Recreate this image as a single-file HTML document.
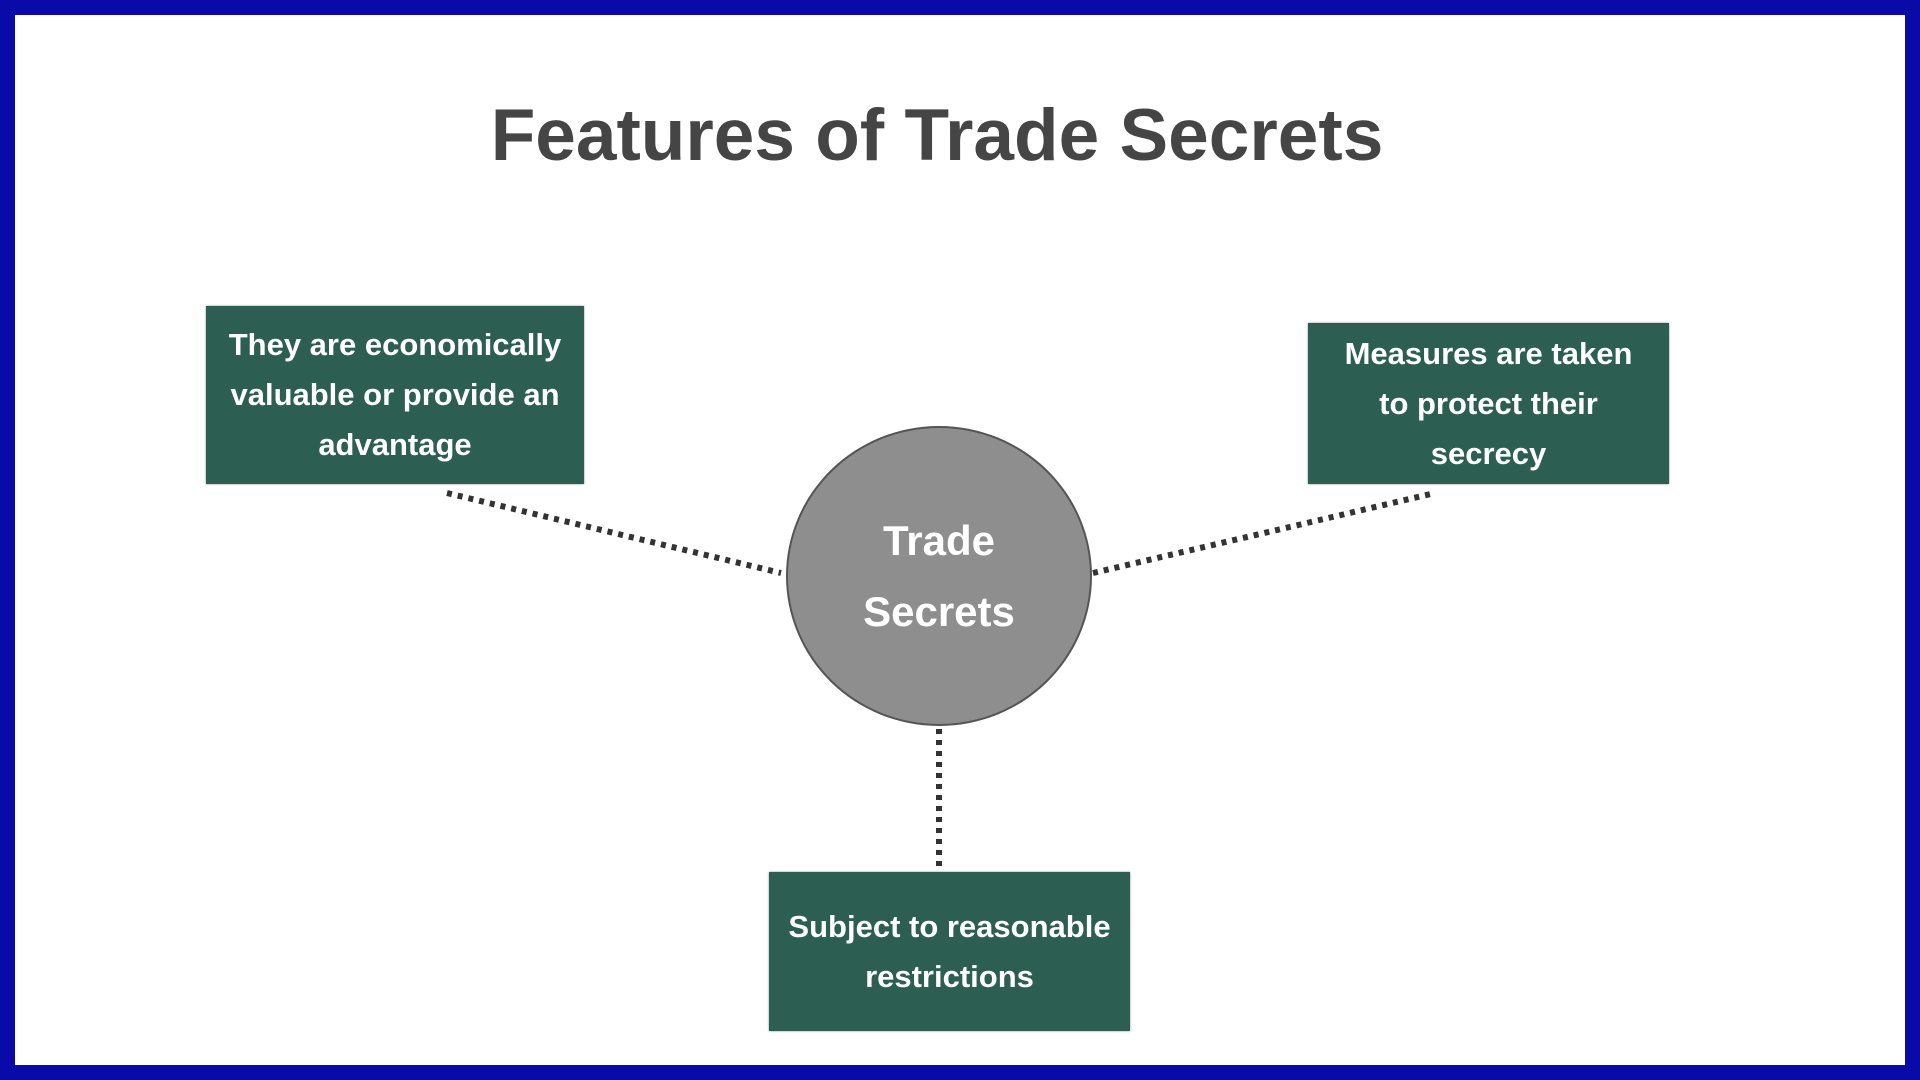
<!DOCTYPE html>
<html><head><meta charset="utf-8"><style>
html,body{margin:0;padding:0;}
body{width:1920px;height:1080px;position:relative;background:#0a0aa8;overflow:hidden;font-family:"Liberation Sans",sans-serif;}
.inner{position:absolute;left:15px;top:15px;width:1890px;height:1050px;background:#fff;}
.title{position:absolute;left:0;width:1874px;top:94px;text-align:center;font-size:73px;font-weight:bold;color:#454545;}
.box{position:absolute;background:#2c5e51;color:#fff;font-weight:bold;font-size:31px;line-height:50px;display:flex;align-items:center;justify-content:center;text-align:center;box-shadow:0 0 2px #888;}
.circle{position:absolute;left:786px;top:426px;width:302px;height:296px;border-radius:50%;background:#8e8e8e;border:2px solid #555;display:flex;align-items:center;justify-content:center;text-align:center;color:#fff;font-weight:bold;font-size:42px;line-height:71px;}
svg{position:absolute;left:0;top:0;}
</style></head><body>
<div class="inner"></div>
<div class="title">Features of Trade Secrets</div>
<svg width="1920" height="1080">
<g stroke="#333" stroke-width="6" stroke-dasharray="5 6" fill="none">
<line x1="447" y1="493" x2="781" y2="573"/>
<line x1="1093" y1="573" x2="1435" y2="493"/>
<line x1="939" y1="729" x2="939" y2="866"/>
</g>
</svg>
<div class="box" style="left:206px;top:306px;width:378px;height:178px;">They are economically<br>valuable or provide an<br>advantage</div>
<div class="box" style="left:1308px;top:323px;width:361px;height:161px;">Measures are taken<br>to protect their<br>secrecy</div>
<div class="box" style="left:769px;top:872px;width:361px;height:159px;">Subject to reasonable<br>restrictions</div>
<div class="circle">Trade<br>Secrets</div>
</body></html>
